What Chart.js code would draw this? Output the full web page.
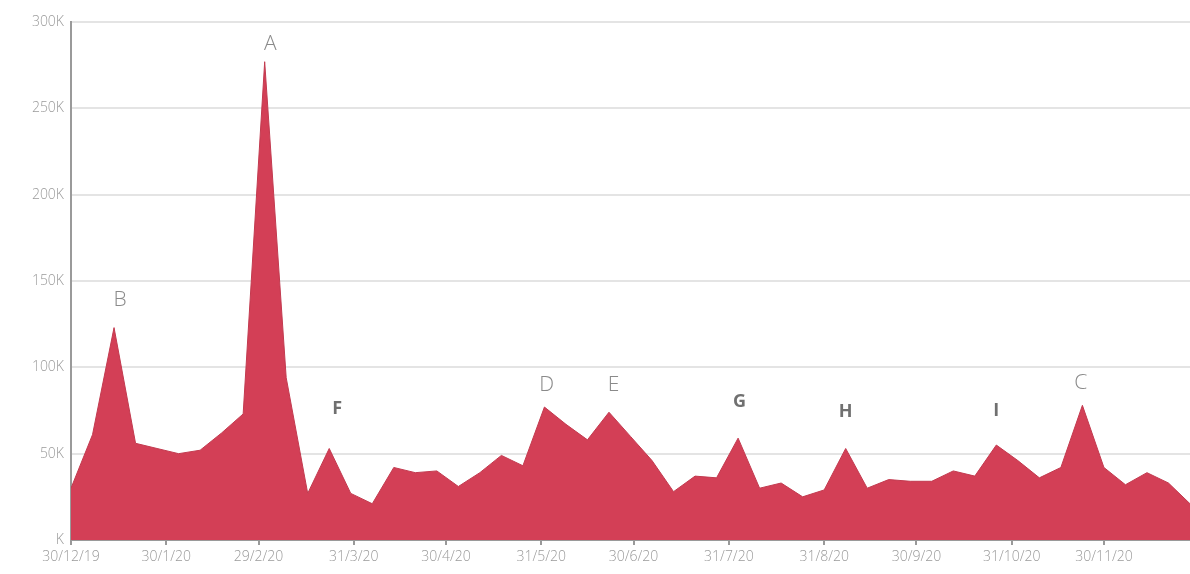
<!DOCTYPE html>
<html>
<head>
<meta charset="utf-8">
<script src="https://cdn.jsdelivr.net/npm/chart.js@4/dist/chart.umd.min.js"></script>
<style>
    html, body { margin: 0; padding: 0; background: #ffffff; }
    #wrap { width: 1190px; height: 574px; position: relative; }
</style>
</head>
<body>
<div id="wrap"><canvas id="weekly-chart"></canvas></div>
<script>
// weekly values (thousands), one per week starting 30/12/19
const weeklyValues = [
    30, 61, 123, 56, 53, 50, 52, 62, 73, 277,
    94, 27, 53, 27, 21, 42, 39, 40, 31, 39,
    49, 43, 77, 67, 58, 74, 60, 46, 28, 37,
    36, 59, 30, 33, 25, 29, 53, 30, 35, 34,
    34, 40, 37, 55, 46, 36, 42, 78, 42, 32,
    39, 33, 21
];

// x tick positions (days since 30/12/19) and their labels
const tickDays   = [0, 31, 61, 92, 122, 153, 183, 214, 245, 275, 306, 336];
const tickLabels = ['30/12/19', '30/1/20', '29/2/20', '31/3/20', '30/4/20', '31/5/20',
                    '30/6/20', '31/7/20', '31/8/20', '30/9/20', '31/10/20', '30/11/20'];

const yTicks = [0, 50, 100, 150, 200, 250, 300];

// annotation letters: day position, value height (thousands)
const noteLetters = ['A', 'B', 'C', 'D', 'E', 'F', 'G', 'H', 'I'];
const noteDays    = [64.8, 16, 328.5, 154.7, 176.5, 86.6, 217.5, 252, 301];
const noteValues  = [287, 139, 91, 90, 90, 76, 80, 74, 75];
const noteBold    = [false, false, false, false, false, true, true, true, true];

const points = weeklyValues.map(function (v, i) { return { x: i * 7, y: v }; });

const letterPlugin = {
    id: 'letters',
    afterDatasetsDraw(chart) {
        const ctx = chart.ctx;
        const xs = chart.scales.x, ys = chart.scales.y;
        ctx.save();
        ctx.textAlign = 'center';
        ctx.textBaseline = 'middle';
        noteLetters.forEach(function (t, i) {
            if (noteBold[i]) {
                ctx.font = 'bold 18px "Open Sans", sans-serif';
                ctx.fillStyle = '#707070';
            } else {
                ctx.font = '300 21px "Open Sans", sans-serif';
                ctx.fillStyle = '#8a8a8a';
            }
            ctx.fillText(t, xs.getPixelForValue(noteDays[i]), ys.getPixelForValue(noteValues[i]));
        });
        ctx.restore();
    }
};

new Chart(document.getElementById('weekly-chart'), {
    type: 'line',
    data: {
        datasets: [{
            data: points,
            borderColor: '#c23a4f',
            backgroundColor: '#d33f56',
            borderWidth: 1,
            fill: 'origin',
            tension: 0,
            pointRadius: 0
        }]
    },
    options: {
        responsive: true,
        maintainAspectRatio: false,
        animation: false,
        layout: { padding: { top: 22, right: 0, left: 0, bottom: 0 } },
        plugins: { legend: { display: false }, tooltip: { enabled: false } },
        scales: {
            x: {
                type: 'linear',
                min: 0,
                max: 364,
                afterBuildTicks(axis) { axis.ticks = tickDays.map(function (d) { return { value: d }; }); },
                afterFit(axis) { axis.height = 34; },
                grid: { drawOnChartArea: false, drawTicks: true, tickLength: 5, color: '#9a9a9a', lineWidth: 2 },
                border: { color: '#9a9a9a', width: 2 },
                ticks: {
                    autoSkip: false,
                    maxRotation: 0,
                    padding: 4,
                    color: '#9a9a9a',
                    font: { family: 'Open Sans', size: 14, weight: '300' },
                    callback: function (v) { return tickLabels[tickDays.indexOf(v)]; }
                }
            },
            y: {
                min: 0,
                max: 300,
                afterBuildTicks(axis) { axis.ticks = yTicks.map(function (v) { return { value: v }; }); },
                afterFit(axis) { axis.width = 71; },
                grid: { color: '#e4e4e4', lineWidth: 2, drawTicks: false },
                border: { color: '#9a9a9a', width: 2 },
                ticks: {
                    padding: 7,
                    color: '#9a9a9a',
                    font: { family: 'Open Sans', size: 14, weight: '300' },
                    callback: function (v) { return (v === 0 ? '' : v) + 'K'; }
                }
            }
        }
    },
    plugins: [letterPlugin]
});
</script>
</body>
</html>
